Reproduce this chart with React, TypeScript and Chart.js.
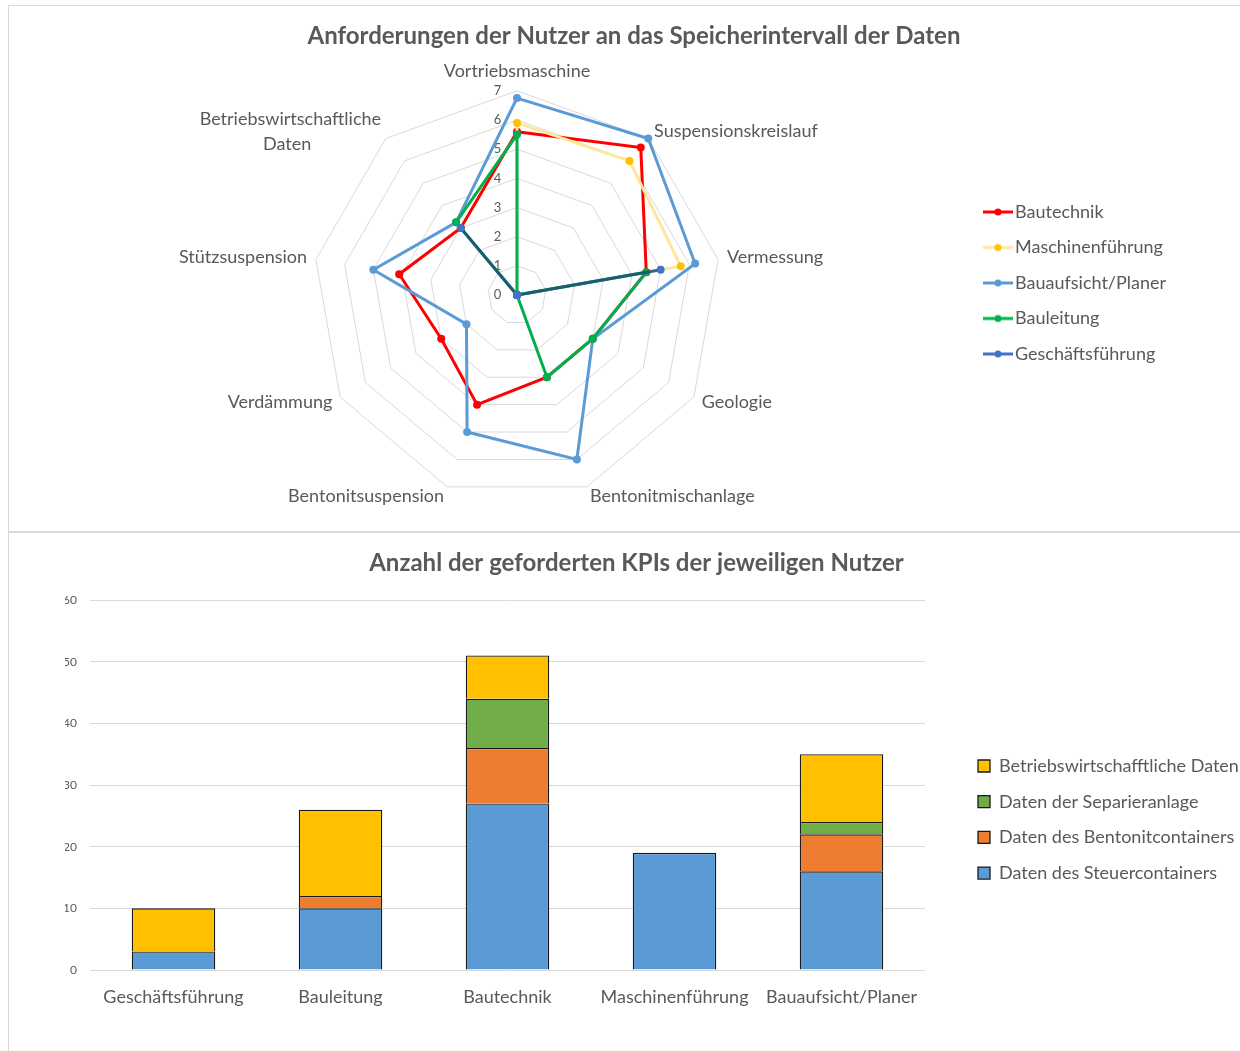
import React, { useEffect, useRef } from 'react';
import { Chart, registerables } from 'chart.js';

Chart.register(...registerables);

const FONT = "Lato, 'Noto Sans', sans-serif";
const TEXT = '#595959';
const GRID = '#D9D9D9';

// ---------- Radar data ----------
const radarCategories: (string | string[])[] = [
  'Vortriebsmaschine',
  'Suspensionskreislauf',
  'Vermessung',
  'Geologie',
  'Bentonitmischanlage',
  'Bentonitsuspension',
  'Verdämmung',
  'Stützsuspension',
  ['Betriebswirtschaftliche\u2002\u2002\u2009', 'Daten' + '\u2002'.repeat(10)],
];
const radarSeriesNames = ['Bautechnik', 'Maschinenführung', 'Bauaufsicht/Planer', 'Bauleitung', 'Geschäftsführung'];
const radarBautechnik = [5.6, 6.6, 4.5, 3, 3, 4, 3, 4.1, 3];
const radarMaschinenfuehrung = [5.9, 6, 5.7, 0, 0, 0, 0, 0, 0];
const radarBauaufsicht = [6.75, 7, 6.2, 3, 6, 5, 2, 5, 3.25];
const radarBauleitung = [5.5, 0, 4.5, 3, 3, 0, 0, 0, 3.25];
const radarGeschaeftsfuehrung = [0, 0, 5, 0, 0, 0, 0, 0, 3];
const radarLineColors = ['#FF0000', '#FFE699', '#5B9BD5', '#00B050', 'rgba(31,78,121,0.85)'];
const radarMarkerColors = ['#FF0000', '#FFC000', '#5B9BD5', '#00B050', '#4472C4'];
const radarLegendLineColors = ['#FF0000', '#FFE699', '#5B9BD5', '#00B050', '#4472C4'];
const radarMax = 7;

// ---------- Bar data ----------
const barCategories = ['Geschäftsführung', 'Bauleitung', 'Bautechnik', 'Maschinenführung', 'Bauaufsicht/Planer'];
const barSeriesNames = [
  'Daten des Steuercontainers',
  'Daten des Bentonitcontainers',
  'Daten der Separieranlage',
  'Betriebswirtschafftliche Daten',
];
const barSteuer = [3, 10, 27, 19, 16];
const barBentonit = [null, 2, 9, null, 6];
const barSeparier = [null, null, 8, null, 2];
const barBetriebs = [7, 14, 7, null, 11];
const barColors = ['#5B9BD5', '#ED7D31', '#70AD47', '#FFC000'];
const barMax = 60;
const barStep = 10;

const LABEL_SIZE = 18;

function lineIcon(line: string, marker: string) {
  const c = document.createElement('canvas');
  c.width = 30;
  c.height = 10;
  const g = c.getContext('2d')!;
  g.strokeStyle = line;
  g.lineWidth = 3;
  g.beginPath();
  g.moveTo(0, 5);
  g.lineTo(30, 5);
  g.stroke();
  g.fillStyle = marker;
  g.beginPath();
  g.arc(15, 5, 3.5, 0, Math.PI * 2);
  g.fill();
  return c;
}

function maxTextWidth(texts: string[], size: number) {
  const g = document.createElement('canvas').getContext('2d')!;
  g.font = `${size}px ${FONT}`;
  return Math.max(...texts.map((t) => g.measureText(t).width));
}

// Places the (right-hand) legend box at a given left edge and lets it extend to the canvas edge.
const legendPlacer = {
  id: 'legendPlacer',
  afterLayout(chart: any, _args: any, opts: any) {
    const lg = chart.legend;
    if (!lg || opts == null || opts.left == null) return;
    lg.left = opts.left;
    lg.right = chart.width;
    lg.width = lg.right - lg.left;
  },
};

export default function App() {
  const radarRef = useRef<HTMLCanvasElement>(null);
  const barRef = useRef<HTMLCanvasElement>(null);

  useEffect(() => {
    // ---------------- Radar ----------------
    const radarValues = [radarBautechnik, radarMaschinenfuehrung, radarBauaufsicht, radarBauleitung, radarGeschaeftsfuehrung];
    const icons = radarSeriesNames.map((_, i) => lineIcon(radarLegendLineColors[i], radarMarkerColors[i]));

    const rLegPad = 17.5;
    const rLegLeft = 963.5;
    const rLegWidth = rLegPad + 16 + LABEL_SIZE / 2 + maxTextWidth(radarSeriesNames, LABEL_SIZE) + 10;
    const rLegRight = rLegLeft + rLegWidth;
    const rPadL = 1250 - rLegRight;
    const rAreaRight = 1016 - rPadL;
    const rGap = rLegLeft - rAreaRight;
    const rPadR = 1252 - rLegRight;

    const radar = new Chart(radarRef.current!, {
      type: 'radar',
      data: {
        labels: radarCategories as any,
        datasets: radarSeriesNames.map((name, i) => ({
          label: name,
          data: radarValues[i],
          borderColor: radarLineColors[i],
          backgroundColor: radarMarkerColors[i],
          pointBackgroundColor: radarMarkerColors[i],
          pointBorderColor: radarMarkerColors[i],
          pointBorderWidth: 0,
          pointRadius: 4,
          borderWidth: 3,
          fill: false,
          order: radarSeriesNames.length - i,
        })),
      },
      options: {
        responsive: false,
        animation: false,
        events: [],
        layout: { padding: { left: rPadL, right: rPadR, top: 0, bottom: 17 } },
        plugins: {
          title: {
            display: true,
            text: 'Anforderungen der Nutzer an das Speicherintervall der Daten',
            color: TEXT,
            font: { family: FONT, size: 24, weight: 'bold' },
            padding: { top: 15.6, bottom: 13.6 },
          },
          legend: {
            position: 'right',
            align: 'start',
            title: { display: true, text: ' ', font: { size: 1 }, padding: (179.5 - 1.2) / 2 },
            labels: {
              usePointStyle: true,
              pointStyleWidth: 16,
              padding: rLegPad,
              color: TEXT,
              font: { family: FONT, size: LABEL_SIZE },
              generateLabels: () =>
                radarSeriesNames.map((name, i) => ({
                  text: name,
                  pointStyle: icons[i] as any,
                  fillStyle: radarMarkerColors[i],
                  strokeStyle: radarLegendLineColors[i],
                  lineWidth: 0,
                  hidden: false,
                  datasetIndex: i,
                  fontColor: TEXT,
                })),
            },
          },
          tooltip: { enabled: false },
        },
        scales: {
          r: {
            min: -1e-6,
            max: radarMax,
            angleLines: { display: false },
            grid: { color: GRID, lineWidth: 1 },
            ticks: {
              stepSize: 1,
              color: TEXT,
              font: { family: FONT, size: 13 },
              showLabelBackdrop: false,
              backdropPadding: 0,
              callback: (v: any) => String(Math.round(Number(v))) + '\u2002'.repeat(6),
            },
            pointLabels: {
              color: TEXT,
              font: (ctx: any) =>
                ctx.index === 8
                  ? { family: FONT, size: LABEL_SIZE, lineHeight: 25 / LABEL_SIZE }
                  : { family: FONT, size: LABEL_SIZE, lineHeight: 0.1 },
              padding: (ctx: any) => (ctx.index === 0 ? 12.5 : ctx.index === 8 ? -30.7 : 2.5),
            },
          },
          gap: {
            type: 'linear',
            position: 'right',
            display: true,
            grid: { display: false },
            border: { display: false },
            ticks: { display: false },
            afterFit: (s: any) => {
              s.width = rGap;
            },
          },
        } as any,
      },
    });

    // ---------------- Bar ----------------
    const bLegPad = 17.7;
    const bLegLeft = 969 - bLegPad;
    const bAreaRight = 916;
    const bLegNatural = bLegPad + 12 + LABEL_SIZE / 2 + maxTextWidth(barSeriesNames, LABEL_SIZE) + 10;
    const bLegWidth = Math.min(283, bLegNatural);
    const bLayoutRight = bAreaRight + bLegWidth;
    const bPadL = 1255 - bLayoutRight;
    const bPadR = 1252 - bLayoutRight;
    const bYWidth = 81 - bPadL;

    const barValues = [barSteuer, barBentonit, barSeparier, barBetriebs];
    const bar = new Chart(barRef.current!, {
      type: 'bar',
      plugins: [legendPlacer],
      data: {
        labels: barCategories,
        datasets: barSeriesNames.map((name, i) => ({
          label: name,
          data: barValues[i] as any,
          backgroundColor: barColors[i],
          borderColor: '#1A1A1A',
          borderWidth: 1.3,
          borderSkipped: 'start' as any,
          barPercentage: 0.5,
          categoryPercentage: 1,
        })),
      },
      options: {
        responsive: false,
        animation: false,
        events: [],
        layout: { padding: { left: bPadL, right: bPadR, top: 0, bottom: 13.9 } },
        plugins: {
          legendPlacer: { left: bLegLeft },
          title: {
            display: true,
            text: 'Anzahl der geforderten KPIs der jeweiligen Nutzer',
            color: TEXT,
            font: { family: FONT, size: 24, weight: 'bold' },
            padding: { top: 15.6, bottom: 22.6 },
          },
          legend: {
            position: 'right',
            align: 'start',
            reverse: true,
            maxWidth: bLegWidth,
            title: { display: true, text: ' ', font: { size: 1 }, padding: (206.3 - 1.2) / 2 },
            labels: {
              boxWidth: 12,
              boxHeight: 12,
              padding: bLegPad,
              color: TEXT,
              font: { family: FONT, size: LABEL_SIZE },
            },
          },
          tooltip: { enabled: false },
        } as any,
        scales: {
          x: {
            stacked: true,
            grid: { display: false },
            border: { display: false },
            ticks: { color: TEXT, font: { family: FONT, size: LABEL_SIZE }, padding: 8.2, maxRotation: 0, autoSkip: false },
            afterFit: (s: any) => {
              s.height = 69.1;
            },
          },
          y: {
            stacked: true,
            min: 0,
            max: barMax,
            grid: { color: GRID, lineWidth: 1, drawTicks: false },
            border: { display: false },
            ticks: { stepSize: barStep, color: TEXT, font: { family: FONT, size: 12 }, padding: 13 },
            afterFit: (s: any) => {
              s.width = bYWidth;
            },
          },
        } as any,
      },
    });

    return () => {
      radar.destroy();
      bar.destroy();
    };
  }, []);

  return (
    <div style={{ position: 'fixed', left: 0, top: 0, width: 1240, height: 1051, overflow: 'hidden', background: '#fff' }}>
      <div
        style={{
          position: 'absolute',
          left: 8,
          top: 5,
          width: 1300,
          height: 1100,
          borderLeft: '1px solid #D9D9D9',
          borderTop: '1px solid #D9D9D9',
        }}
      />
      <div style={{ position: 'absolute', left: 9, top: 6, width: 1252, height: 525 }}>
        <canvas ref={radarRef} width={1252} height={525} style={{ display: 'block' }} />
      </div>
      <div style={{ position: 'absolute', left: 8, top: 531, width: 1300, height: 2, background: '#D9D9D9' }} />
      <div style={{ position: 'absolute', left: 9, top: 533, width: 1252, height: 520 }}>
        <canvas ref={barRef} width={1252} height={520} style={{ display: 'block' }} />
      </div>
    </div>
  );
}
